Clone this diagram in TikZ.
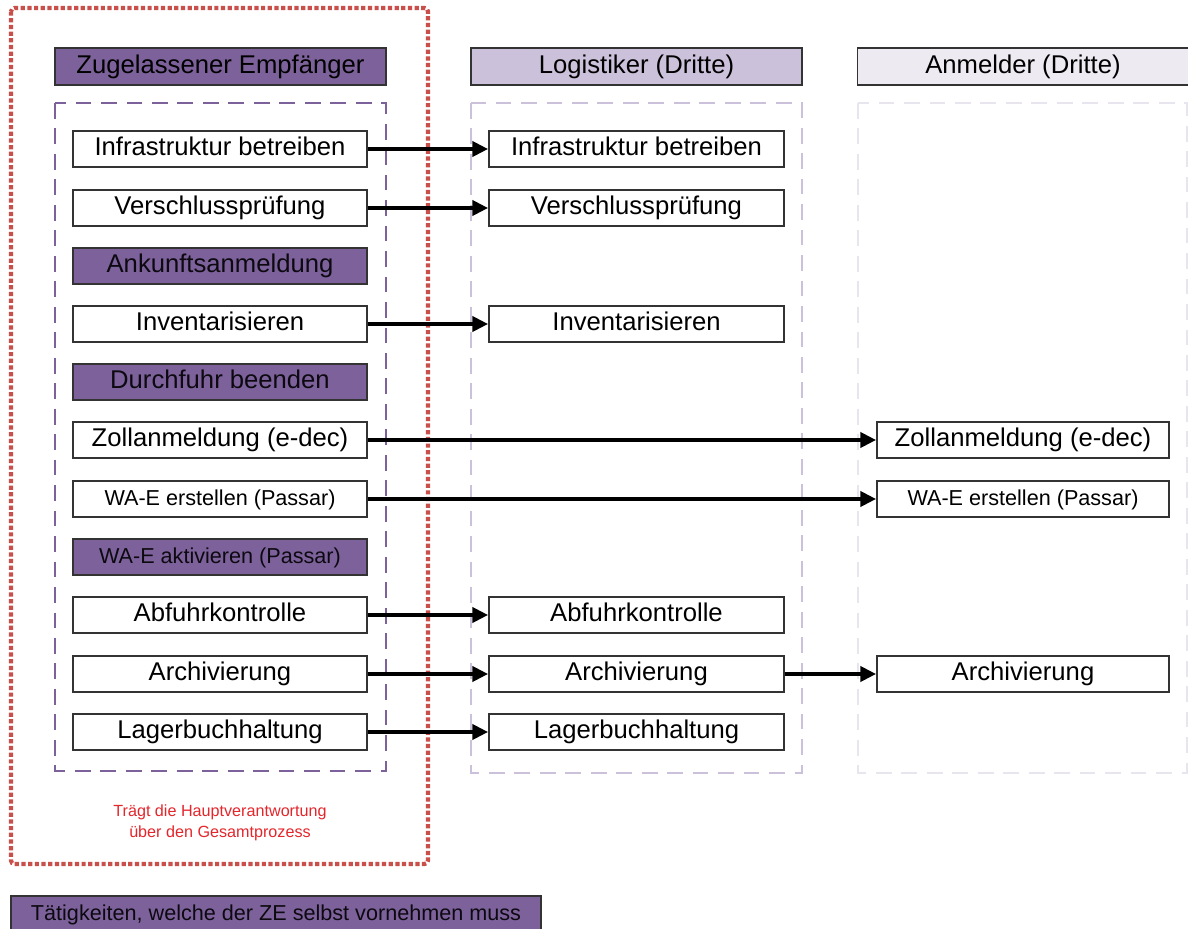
\documentclass[tikz,border=0pt]{standalone}
\usepackage{fontspec}
\setmainfont{Liberation Sans}
\usetikzlibrary{arrows.meta}
\definecolor{zepurple}{HTML}{7D619B}
\definecolor{logpurple}{HTML}{CCC1DA}
\definecolor{anmpurple}{HTML}{EDEAF2}
\definecolor{logdash}{HTML}{CBC1DB}
\definecolor{anmdash}{HTML}{E9E5EF}
\definecolor{reddot}{HTML}{C9504A}
\definecolor{redtext}{HTML}{E3262B}
\definecolor{boxline}{HTML}{333333}
\tikzset{
  task/.style={draw=boxline, line width=1pt, fill=white, rectangle, inner sep=0pt,
    minimum height=0.72cm, text height=0.8em, text depth=0.04em,
    font=\fontsize{14.6}{17}\selectfont},
  tasksmall/.style={task, font=\fontsize{12.3}{14}\selectfont},
  self/.style={fill=zepurple, text=black!90!zepurple},
  leftcol/.style={minimum width=5.88cm},
  midcol/.style={minimum width=5.9cm},
  rightcol/.style={minimum width=5.84cm},
  header/.style={draw=boxline, line width=1pt, rectangle, inner sep=0pt,
    minimum width=6.62cm, minimum height=0.74cm, text height=0.8em, text depth=0.04em,
    font=\fontsize{14.6}{17}\selectfont},
  flow/.style={line width=2.3pt, -{Triangle[length=9pt,width=8.5pt]}},
  container/.style={line width=1.6pt, dash pattern=on 9pt off 5.5pt},
}
\begin{document}
\begin{tikzpicture}[x=0.02cm,y=-0.02cm]
\useasboundingbox (0,0) rectangle (1188,929);

% red responsibility frame
\draw[reddot, line width=2.4pt, dash pattern=on 2.4pt off 1.4pt, rounded corners=2pt]
  (11,8) rectangle (428,864);

% containers
\draw[container, draw=zepurple] (55,103) rectangle (386,771);
\draw[container, draw=logdash] (471,103) rectangle (802,773);
\draw[container, draw=anmdash] (858,103) rectangle (1187,773);

% headers
\node[header, fill=zepurple] (hZE) at (220.5,66.5) {Zugelassener Empfänger};
\node[header, fill=logpurple] (hLog) at (636.5,66.5) {Logistiker (Dritte)};
\node[header, fill=anmpurple] (hAnm) at (1023,66.5) {Anmelder (Dritte)};

% left column
\node[task, leftcol] (l1) at (220,149) {Infrastruktur betreiben};
\node[task, leftcol] (l2) at (220,208) {Verschlussprüfung};
\node[task, leftcol, self] (l3) at (220,266) {Ankunftsanmeldung};
\node[task, leftcol] (l4) at (220,324) {Inventarisieren};
\node[task, leftcol, self] (l5) at (220,382) {Durchfuhr beenden};
\node[task, leftcol] (l6) at (220,440) {Zollanmeldung (e-dec)};
\node[tasksmall, leftcol] (l7) at (220,499) {WA-E erstellen (Passar)};
\node[tasksmall, leftcol, self] (l8) at (220,557) {WA-E aktivieren (Passar)};
\node[task, leftcol] (l9) at (220,615) {Abfuhrkontrolle};
\node[task, leftcol] (l10) at (220,674) {Archivierung};
\node[task, leftcol] (l11) at (220,732) {Lagerbuchhaltung};

% middle column
\node[task, midcol] (m1) at (636.5,149) {Infrastruktur betreiben};
\node[task, midcol] (m2) at (636.5,208) {Verschlussprüfung};
\node[task, midcol] (m4) at (636.5,324) {Inventarisieren};
\node[task, midcol] (m9) at (636.5,615) {Abfuhrkontrolle};
\node[task, midcol] (m10) at (636.5,674) {Archivierung};
\node[task, midcol] (m11) at (636.5,732) {Lagerbuchhaltung};

% right column
\node[task, rightcol] (r6) at (1023,440) {Zollanmeldung (e-dec)};
\node[tasksmall, rightcol] (r7) at (1023,499) {WA-E erstellen (Passar)};
\node[task, rightcol] (r10) at (1023,674) {Archivierung};

% arrows
\draw[flow] (l1.east) -- (m1.west);
\draw[flow] (l2.east) -- (m2.west);
\draw[flow] (l4.east) -- (m4.west);
\draw[flow] (l6.east) -- (r6.west);
\draw[flow] (l7.east) -- (r7.west);
\draw[flow] (l9.east) -- (m9.west);
\draw[flow] (l10.east) -- (m10.west);
\draw[flow] (l11.east) -- (m11.west);
\draw[flow] (m10.east) -- (r10.west);

% responsibility note
\node[text=redtext, align=center, font=\fontsize{9.2}{11.9}\selectfont] (note) at (220,823)
  {Trägt die Hauptverantwortung\\über den Gesamtprozess};

% legend
\node[draw=boxline, line width=1pt, fill=zepurple, text=black!90!zepurple, inner sep=0pt,
  minimum width=10.6cm, minimum height=0.72cm, text height=0.8em, text depth=0.04em,
  font=\fontsize{12.3}{14}\selectfont] (legend) at (276,914)
  {Tätigkeiten, welche der ZE selbst vornehmen muss};
\end{tikzpicture}
\end{document}
